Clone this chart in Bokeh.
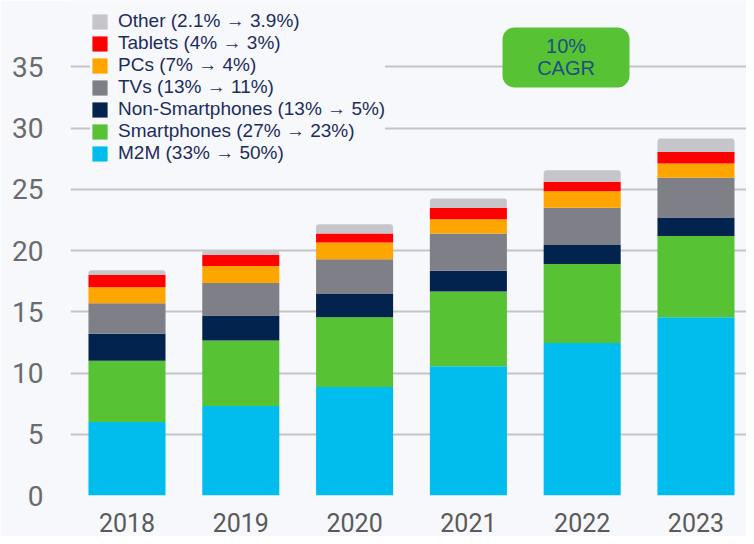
from bokeh.plotting import figure
from bokeh.models import Legend, LegendItem, BoxAnnotation, Label, Range1d, ColumnDataSource
from bokeh.embed import file_html
from bokeh.resources import INLINE

years = ["2018", "2019", "2020", "2021", "2022", "2023"]
series = ["M2M", "Smartphones", "Non-Smartphones", "TVs", "PCs", "Tablets", "Other"]
legend_labels = {
    "M2M": "M2M (33% \u2192 50%)",
    "Smartphones": "Smartphones (27% \u2192 23%)",
    "Non-Smartphones": "Non-Smartphones (13% \u2192 5%)",
    "TVs": "TVs (13% \u2192 11%)",
    "PCs": "PCs (7% \u2192 4%)",
    "Tablets": "Tablets (4% \u2192 3%)",
    "Other": "Other (2.1% \u2192 3.9%)",
}
m2m = [6.0, 7.3, 8.85, 10.55, 12.45, 14.55]
smartphones = [5.0, 5.35, 5.7, 6.1, 6.45, 6.65]
non_smartphones = [2.2, 2.05, 1.9, 1.7, 1.55, 1.5]
tvs = [2.5, 2.65, 2.85, 3.05, 3.05, 3.25]
pcs = [1.3, 1.4, 1.35, 1.15, 1.35, 1.15]
tablets = [1.0, 0.9, 0.75, 0.95, 0.75, 0.95]
other = [0.4, 0.4, 0.75, 0.75, 0.95, 1.1]
y_ticks = [0, 5, 10, 15, 20, 25, 30, 35]
cagr_lines = ["10%", "CAGR"]

colors = {
    "M2M": "#00bdee",
    "Smartphones": "#57c234",
    "Non-Smartphones": "#03234f",
    "TVs": "#7e7f87",
    "PCs": "#ffa500",
    "Tablets": "#ff0000",
    "Other": "#c5c5ca",
}

idx = list(range(len(years)))
data = {"x": idx, "M2M": m2m, "Smartphones": smartphones,
        "Non-Smartphones": non_smartphones, "TVs": tvs, "PCs": pcs,
        "Tablets": tablets, "Other": other}
source = ColumnDataSource(data)

BG = "#f7f8fb"
p = figure(x_range=Range1d(-0.4965, 5.444), y_range=Range1d(0, 40.42),
           width=746, height=536, output_backend="svg", toolbar_location=None,
           background_fill_color=BG, border_fill_color=BG,
           min_border_left=70, min_border_right=0, min_border_top=0, min_border_bottom=41)
p.outline_line_color = None

renderers = p.vbar_stack(series, x="x", width=0.677, source=source,
                         color=[colors[s] for s in series], line_color=None)
renderers[-1].glyph.border_radius = (3, 3, 0, 0)

# Legend (top item = Other)
items = [LegendItem(label=legend_labels[s], renderers=[r]) for s, r in reversed(list(zip(series, renderers)))]
legend = Legend(items=items, location=(20, 331), background_fill_color=BG, background_fill_alpha=1,
                border_line_color=None, label_text_font="Liberation Sans", label_text_font_size="19px",
                label_text_color="#1c2c5c", glyph_width=19, glyph_height=19, spacing=0,
                label_height=19, label_standoff=9, padding=9, margin=0)
p.add_layout(legend)

# Grid & axes
p.xgrid.grid_line_color = None
p.ygrid.ticker = y_ticks
p.ygrid.grid_line_color = "#c4c4c6"
p.ygrid.grid_line_width = 2

p.yaxis.ticker = y_ticks
p.yaxis.axis_line_color = None
p.yaxis.major_tick_line_color = None
p.yaxis.minor_tick_line_color = None
p.yaxis.major_label_standoff = 21
p.yaxis.major_label_text_font = "Roboto"
p.yaxis.major_label_text_font_size = "28px"
p.yaxis.major_label_text_color = "#6b6b6b"

p.xaxis.ticker = idx
p.xaxis.major_label_overrides = {i: y for i, y in zip(idx, years)}
p.xaxis.axis_line_color = None
p.xaxis.major_tick_line_color = None
p.xaxis.minor_tick_line_color = None
p.xaxis.major_label_standoff = 11
p.xaxis.major_label_text_font = "Roboto"
p.xaxis.major_label_text_font_size = "25px"
p.xaxis.major_label_text_color = "#5a5a5a"

# CAGR badge
box = BoxAnnotation(left=3.30, right=4.416, bottom=33.32, top=38.22,
                    fill_color="#57c234", fill_alpha=1, line_color=None, border_radius=12, level="annotation")
p.add_layout(box)
p.add_layout(Label(x=3.858, y=36.68, text=cagr_lines[0], text_align="center", text_baseline="middle",
                   text_font="Liberation Sans", text_font_size="20px", text_color="#1d4f86"))
p.add_layout(Label(x=3.858, y=34.9, text=cagr_lines[1], text_align="center", text_baseline="middle",
                   text_font="Liberation Sans", text_font_size="20px", text_color="#1d4f86"))

open("out.html", "w").write(file_html(p, INLINE))
